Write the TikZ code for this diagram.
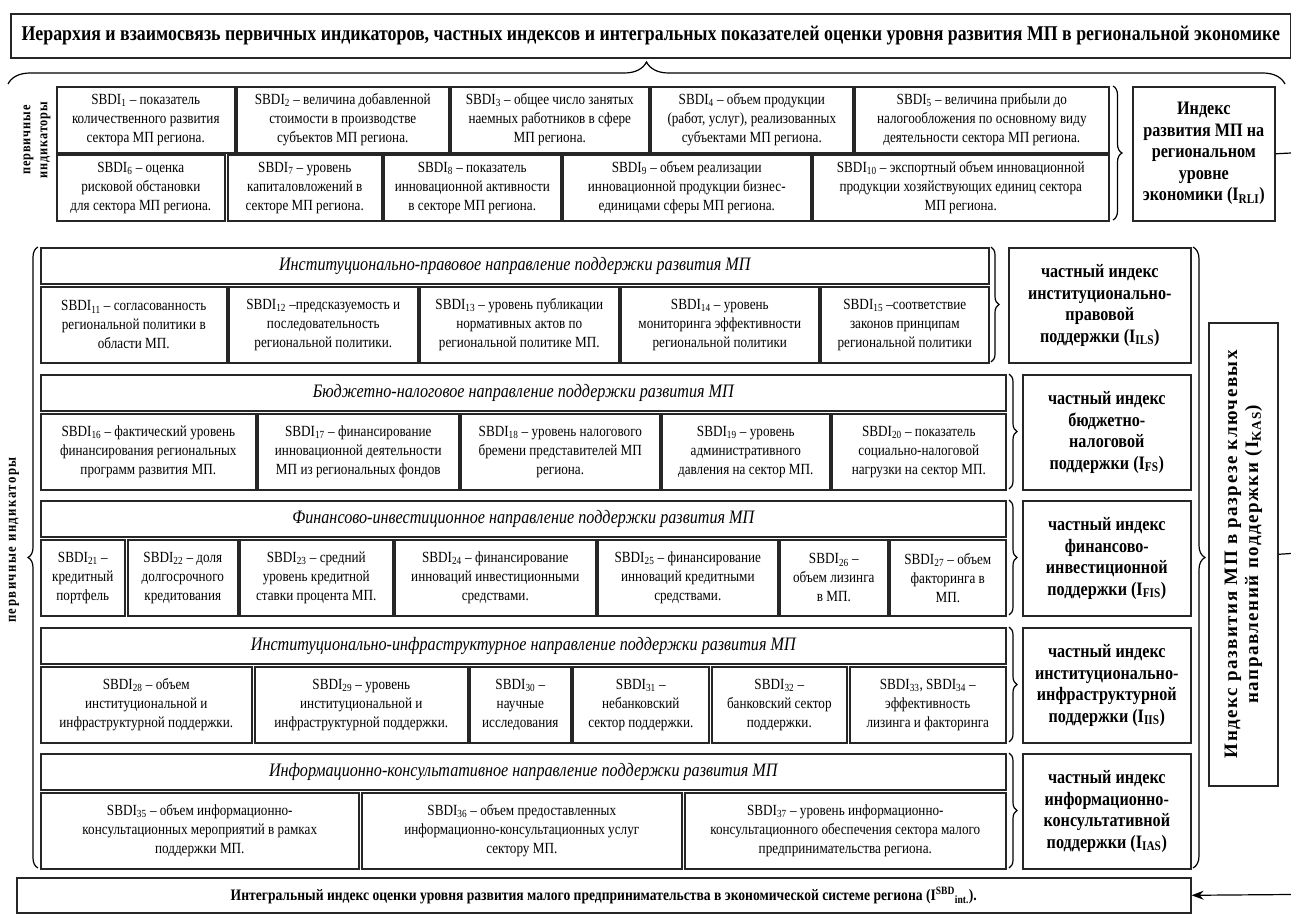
\documentclass[tikz,border=0pt]{standalone}
\usepackage{fontspec}
\setmainfont[FakeStretch=0.85]{Liberation Serif}
\newfontfamily\wideserif{Liberation Serif}
\usetikzlibrary{decorations.pathreplacing}
\usetikzlibrary{arrows.meta}
\newcommand{\sbdi}[1]{SBDI\textsubscript{#1}}

\begin{document}
\begin{tikzpicture}[x=1pt,y=-1pt,
  ind/.style={draw=black!85, line width=1.6pt, align=center, inner sep=0pt, anchor=north west, font=\fontsize{15.5}{19}\selectfont},
  hdr/.style={draw=black!85, line width=1.6pt, inner sep=0pt, anchor=north west, font=\fontsize{19}{22}\selectfont\itshape},
  idx/.style={draw=black!85, line width=1.6pt, align=center, inner sep=0pt, anchor=north west, font=\fontsize{19}{21.5}\selectfont\bfseries},
  brc/.style={decorate, decoration={brace, amplitude=#1}, line width=1.2pt}]

\useasboundingbox (0,0) rectangle (1291,917);

\node[idx, minimum width=1280, minimum height=44, font=\fontsize{21}{24}\selectfont\bfseries] (title) at (10,13) {Иерархия и взаимосвязь первичных индикаторов, частных индексов и интегральных показателей оценки уровня развития МП в региональной экономике};
\draw[brc=22] (8,84) -- (1285,84);

\node[rotate=90, align=center, font=\fontsize{14.5}{17}\selectfont\bfseries\addfontfeature{LetterSpace=6}] (toplbl) at (37,140) {первичные\\индикаторы};

\node[ind, minimum width=178, minimum height=66] (s1) at (56,86) {\sbdi{1} – показатель\\количественного развития\\сектора МП региона.};
\node[ind, minimum width=212, minimum height=66] (s2) at (236,86) {\sbdi{2} – величина добавленной\\стоимости в производстве\\субъектов МП региона.};
\node[ind, minimum width=198, minimum height=66] (s3) at (450,86) {\sbdi{3} – общее число занятых\\наемных работников в сфере\\МП региона.};
\node[ind, minimum width=202, minimum height=66] (s4) at (650,86) {\sbdi{4} – объем продукции\\(работ, услуг), реализованных\\субъектами МП региона.};
\node[ind, minimum width=254, minimum height=66] (s5) at (854,86) {\sbdi{5} – величина прибыли до\\налогообложения по основному виду\\деятельности сектора МП региона.};
\node[ind, minimum width=168, minimum height=66] (s6) at (56,154) {\sbdi{6} – оценка\\рисковой обстановки\\для сектора МП региона.};
\node[ind, minimum width=154, minimum height=66] (s7) at (227,154) {\sbdi{7} – уровень\\капиталовложений в\\секторе МП региона.};
\node[ind, minimum width=177, minimum height=66] (s8) at (383,154) {\sbdi{8} – показатель\\инновационной активности\\в секторе МП региона.};
\node[ind, minimum width=248, minimum height=66] (s9) at (562,154) {\sbdi{9} – объем реализации\\инновационной продукции бизнес-\\единицами сферы МП региона.};
\node[ind, minimum width=296, minimum height=66] (s10) at (812,154) {\sbdi{10} – экспортный объем инновационной\\продукции хозяйствующих единиц сектора\\МП региона.};
\draw[brc=9] (1113,86) -- (1113,220);
\node[idx, minimum width=142, minimum height=134] (rli) at (1132,86) {Индекс\\развития МП на\\региональном\\уровне\\экономики (I\textsubscript{RLI})};

\node[hdr, minimum width=948, minimum height=36] (h1) at (40,247) {Институционально-правовое направление поддержки развития МП};
\node[ind, minimum width=186, minimum height=76] (s11) at (40,286) {\sbdi{11} – согласованность\\региональной политики в\\области МП.};
\node[ind, minimum width=189, minimum height=76] (s12) at (228,286) {\sbdi{12} –предсказуемость и\\последовательность\\региональной политики.};
\node[ind, minimum width=199, minimum height=76] (s13) at (419,286) {\sbdi{13} – уровень публикации\\нормативных актов по\\региональной политике МП.};
\node[ind, minimum width=198, minimum height=76] (s14) at (620,286) {\sbdi{14} – уровень\\мониторинга эффективности\\региональной политики};
\node[ind, minimum width=168, minimum height=76] (s15) at (820,286) {\sbdi{15} –соответствие\\законов принципам\\региональной политики};
\draw[brc=8] (991,247) -- (991,362);
\node[idx, minimum width=182, minimum height=115] (ils) at (1008,247) {частный индекс\\институционально-\\правовой\\поддержки (I\textsubscript{ILS})};

\node[hdr, minimum width=965, minimum height=36] (h2) at (40,374) {Бюджетно-налоговое направление поддержки развития МП};
\node[ind, minimum width=215, minimum height=76] (s16) at (40,413) {\sbdi{16} – фактический уровень\\финансирования региональных\\программ развития МП.};
\node[ind, minimum width=201, minimum height=76] (s17) at (257,413) {\sbdi{17} – финансирование\\инновационной деятельности\\МП из региональных фондов};
\node[ind, minimum width=199, minimum height=76] (s18) at (460,413) {\sbdi{18} – уровень налогового\\бремени представителей МП\\региона.};
\node[ind, minimum width=168, minimum height=76] (s19) at (661,413) {\sbdi{19} – уровень\\административного\\давления на сектор МП.};
\node[ind, minimum width=174, minimum height=76] (s20) at (831,413) {\sbdi{20} – показатель\\социально-налоговой\\нагрузки на сектор МП.};
\draw[brc=8] (1009,374) -- (1009,489);
\node[idx, minimum width=168, minimum height=115] (fs) at (1022,374) {частный индекс\\бюджетно-\\налоговой\\поддержки (I\textsubscript{FS})};

\node[hdr, minimum width=965, minimum height=36] (h3) at (40,500) {Финансово-инвестиционное направление поддержки развития МП};
\node[ind, minimum width=84, minimum height=76] (s21) at (40,539) {\sbdi{21} –\\кредитный\\портфель};
\node[ind, minimum width=110, minimum height=76] (s22) at (127,539) {\sbdi{22} – доля\\долгосрочного\\кредитования};
\node[ind, minimum width=153, minimum height=76] (s23) at (239,539) {\sbdi{23} – средний\\уровень кредитной\\ставки процента МП.};
\node[ind, minimum width=201, minimum height=76] (s24) at (394,539) {\sbdi{24} – финансирование\\инноваций инвестиционными\\средствами.};
\node[ind, minimum width=180, minimum height=76] (s25) at (597,539) {\sbdi{25} – финансирование\\инноваций кредитными\\средствами.};
\node[ind, minimum width=108, minimum height=76] (s26) at (779,539) {\sbdi{26} –\\объем лизинга\\в МП.};
\node[ind, minimum width=116, minimum height=76] (s27) at (889,539) {\sbdi{27} – объем\\факторинга в\\МП.};
\draw[brc=8] (1009,500) -- (1009,615);
\node[idx, minimum width=168, minimum height=115] (fis) at (1022,500) {частный индекс\\финансово-\\инвестиционной\\поддержки (I\textsubscript{FIS})};

\node[hdr, minimum width=965, minimum height=36] (h4) at (40,627) {Институционально-инфраструктурное направление поддержки развития МП};
\node[ind, minimum width=211, minimum height=76] (s28) at (40,666) {\sbdi{28} – объем\\институциональной и\\инфраструктурной поддержки.};
\node[ind, minimum width=213, minimum height=76] (s29) at (254,666) {\sbdi{29} – уровень\\институциональной и\\инфраструктурной поддержки.};
\node[ind, minimum width=101, minimum height=76] (s30) at (469,666) {\sbdi{30} –\\научные\\исследования};
\node[ind, minimum width=136, minimum height=76] (s31) at (572,666) {\sbdi{31} –\\небанковский\\сектор поддержки.};
\node[ind, minimum width=135, minimum height=76] (s32) at (711,666) {\sbdi{32} –\\банковский сектор\\поддержки.};
\node[ind, minimum width=156, minimum height=76] (s33) at (849,666) {\sbdi{33}, \sbdi{34} –\\эффективность\\лизинга и факторинга};
\draw[brc=8] (1009,627) -- (1009,742);
\node[idx, minimum width=168, minimum height=115] (iis) at (1022,627) {частный индекс\\институционально-\\инфраструктурной\\поддержки (I\textsubscript{IIS})};

\node[hdr, minimum width=965, minimum height=36] (h5) at (40,753) {Информационно-консультативное направление поддержки развития МП};
\node[ind, minimum width=318, minimum height=76] (s35) at (40,792) {\sbdi{35} – объем информационно-\\консультационных мероприятий в рамках\\поддержки МП.};
\node[ind, minimum width=320, minimum height=76] (s36) at (361,792) {\sbdi{36} – объем предоставленных\\информационно-консультационных услуг\\сектору МП.};
\node[ind, minimum width=321, minimum height=76] (s37) at (684,792) {\sbdi{37} – уровень информационно-\\консультационного обеспечения сектора малого\\предпринимательства региона.};
\draw[brc=8] (1009,753) -- (1009,868);
\node[idx, minimum width=168, minimum height=115] (ias) at (1022,753) {частный индекс\\информационно-\\консультативной\\поддержки (I\textsubscript{IAS})};

\draw[brc=10] (38,868) -- (38,247);
\node[rotate=90, font=\fontsize{15}{17}\selectfont\bfseries\addfontfeature{LetterSpace=10}] (lbl) at (14,540) {первичные индикаторы};

\draw[brc=12] (1193,247) -- (1193,868);
\node[idx, minimum width=69, minimum height=463] (kas) at (1208,322) {};
\node[rotate=90, align=center, font=\fontsize{19}{21}\selectfont\bfseries\wideserif\addfontfeature{LetterSpace=8}] (kastxt) at (kas.center) {Индекс развития МП в разрезе ключевых\\направлений поддержки (I\textsubscript{KAS})};

\node[idx, minimum width=1174, minimum height=35, font=\fontsize{16}{18}\selectfont\bfseries] (bot) at (16,877) {Интегральный индекс оценки уровня развития малого предпринимательства в экономической системе региона (I\textsuperscript{SBD}\textsubscript{int.}).};

\coordinate (e1) at (1291,153);
\coordinate (e2) at (1291,553.5);
\coordinate (e3) at (1291,894.5);
\draw[line width=1.2pt] (rli.east) -- (e1);
\draw[line width=1.2pt] (kas.east) -- (e2);
\draw[line width=1.2pt, -{Stealth[length=12pt, width=9pt]}] (e3) -- (bot.east);

\end{tikzpicture}
\end{document}
